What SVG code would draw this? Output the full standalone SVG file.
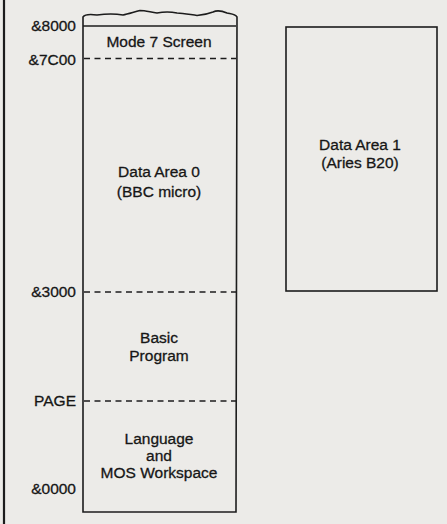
<svg xmlns="http://www.w3.org/2000/svg" width="447" height="524" viewBox="0 0 447 524">
<style>
.bg{fill:#ecebe8}
.box{fill:none;stroke:#1c1c1c;stroke-width:1.6}
.dash{fill:none;stroke:#1c1c1c;stroke-width:1.4;stroke-dasharray:6 4.5}
text{font-family:"Liberation Sans",Arial,sans-serif;font-size:15.5px;fill:#161616;stroke:#161616;stroke-width:0.3}
.c{text-anchor:middle}
.r{text-anchor:end}
</style>
<rect class="bg" x="0" y="0" width="447" height="524"/>
<line x1="4" y1="0" x2="4" y2="524" stroke="#1c1c1c" stroke-width="2.2"/>
<g id="memory-map-0">
  <path class="box" d="M83,512 L83,17 C85,14 90,14 97,15 C104,14 112,13 123,15 C128,14 134,12 140,10.5 C145,10.5 150,12 157,13 C162,12 170,11.5 177,13 C184,13 192,15 197,15.5 C203,15 208,14 213,12 C216,10.5 220,10 227,13 C231,14 235,14 237,17 L236,512 Z"/>
  <line class="box" x1="83" y1="26" x2="236" y2="26"/>
</g>
<g id="addr-8000"><text class="r" x="76" y="31">&amp;8000</text></g>
<g id="mode7">
  <text class="c" x="159" y="47">Mode 7 Screen</text>
</g>
<g id="addr-7C00">
  <text class="r" x="76" y="65">&amp;7C00</text>
  <line class="dash" x1="84" y1="58.5" x2="236" y2="58.5"/>
</g>
<g id="data-area-0">
  <text class="c" x="159" y="177">Data Area 0</text>
  <text class="c" x="159" y="197">(BBC micro)</text>
</g>
<g id="addr-3000">
  <text class="r" x="76" y="297">&amp;3000</text>
  <line class="dash" x1="84" y1="292" x2="236" y2="292"/>
</g>
<g id="basic-program">
  <text class="c" x="159" y="343">Basic</text>
  <text class="c" x="159" y="361">Program</text>
</g>
<g id="addr-page">
  <text class="r" x="76" y="406">PAGE</text>
  <line class="dash" x1="84" y1="401" x2="236" y2="401"/>
</g>
<g id="language-mos">
  <text class="c" x="159" y="444">Language</text>
  <text class="c" x="159" y="461">and</text>
  <text class="c" x="159" y="478">MOS Workspace</text>
</g>
<g id="addr-0000"><text class="r" x="76" y="494">&amp;0000</text></g>
<g id="data-area-1">
  <rect class="box" x="286" y="27" width="151" height="264"/>
  <text class="c" x="360" y="150">Data Area 1</text>
  <text class="c" x="360" y="168">(Aries B20)</text>
</g>
<g id="connectors"/>
</svg>
